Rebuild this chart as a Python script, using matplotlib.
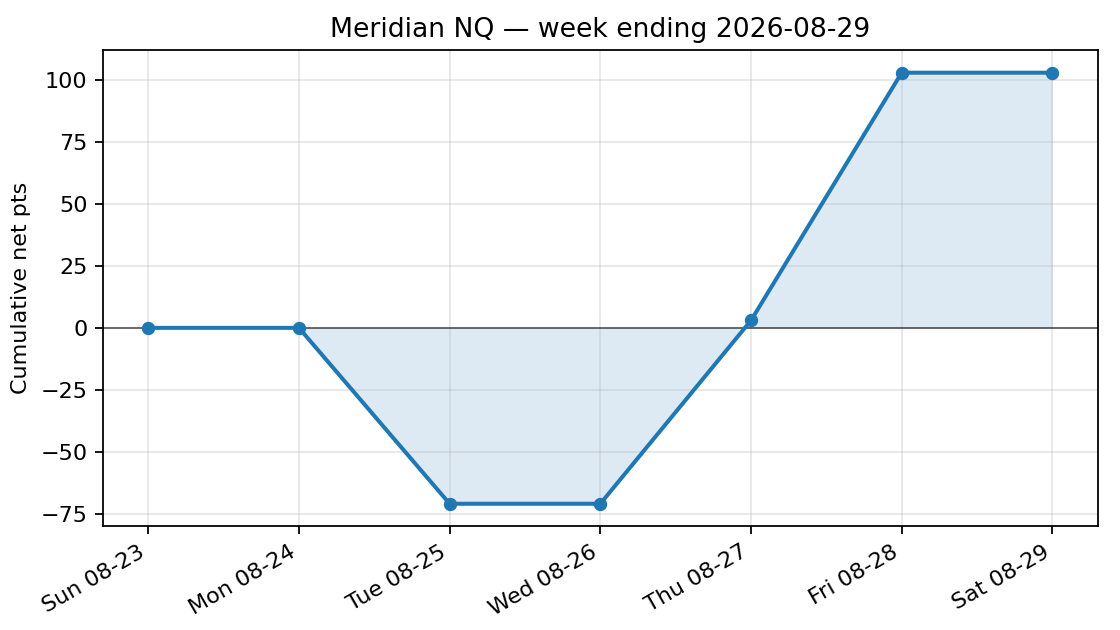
import matplotlib
matplotlib.use("Agg")
import matplotlib.pyplot as plt
import numpy as np

days = ["Sun 08-23", "Mon 08-24", "Tue 08-25", "Wed 08-26", "Thu 08-27", "Fri 08-28", "Sat 08-29"]
cum_pts = [0, 0, -71, -71, 3, 103, 103]

fig, ax = plt.subplots(figsize=(7, 3.9375), dpi=160)
x = np.arange(len(days))
y = np.array(cum_pts)

ax.fill_between(x, y, 0, color="#1f77b4", alpha=0.15, linewidth=0)
ax.axhline(0, color="black", linewidth=0.8, alpha=0.6)
ax.plot(x, y, marker="o", color="#1f77b4", linewidth=1.8, markersize=5)

ax.set_xticks(x)
ax.set_xticklabels(days, rotation=30, ha="right")
ax.set_xlim(-0.3, len(days) - 0.7)
ax.set_ylim(-80, 112)
ax.set_yticks([-75, -50, -25, 0, 25, 50, 75, 100])
ax.set_ylabel("Cumulative net pts")
ax.set_title("Meridian NQ \u2014 week ending 2026-08-29")
ax.grid(True, alpha=0.3)

fig.subplots_adjust(left=0.092, right=0.98, top=0.92, bottom=0.165)
fig.savefig("out.png")
